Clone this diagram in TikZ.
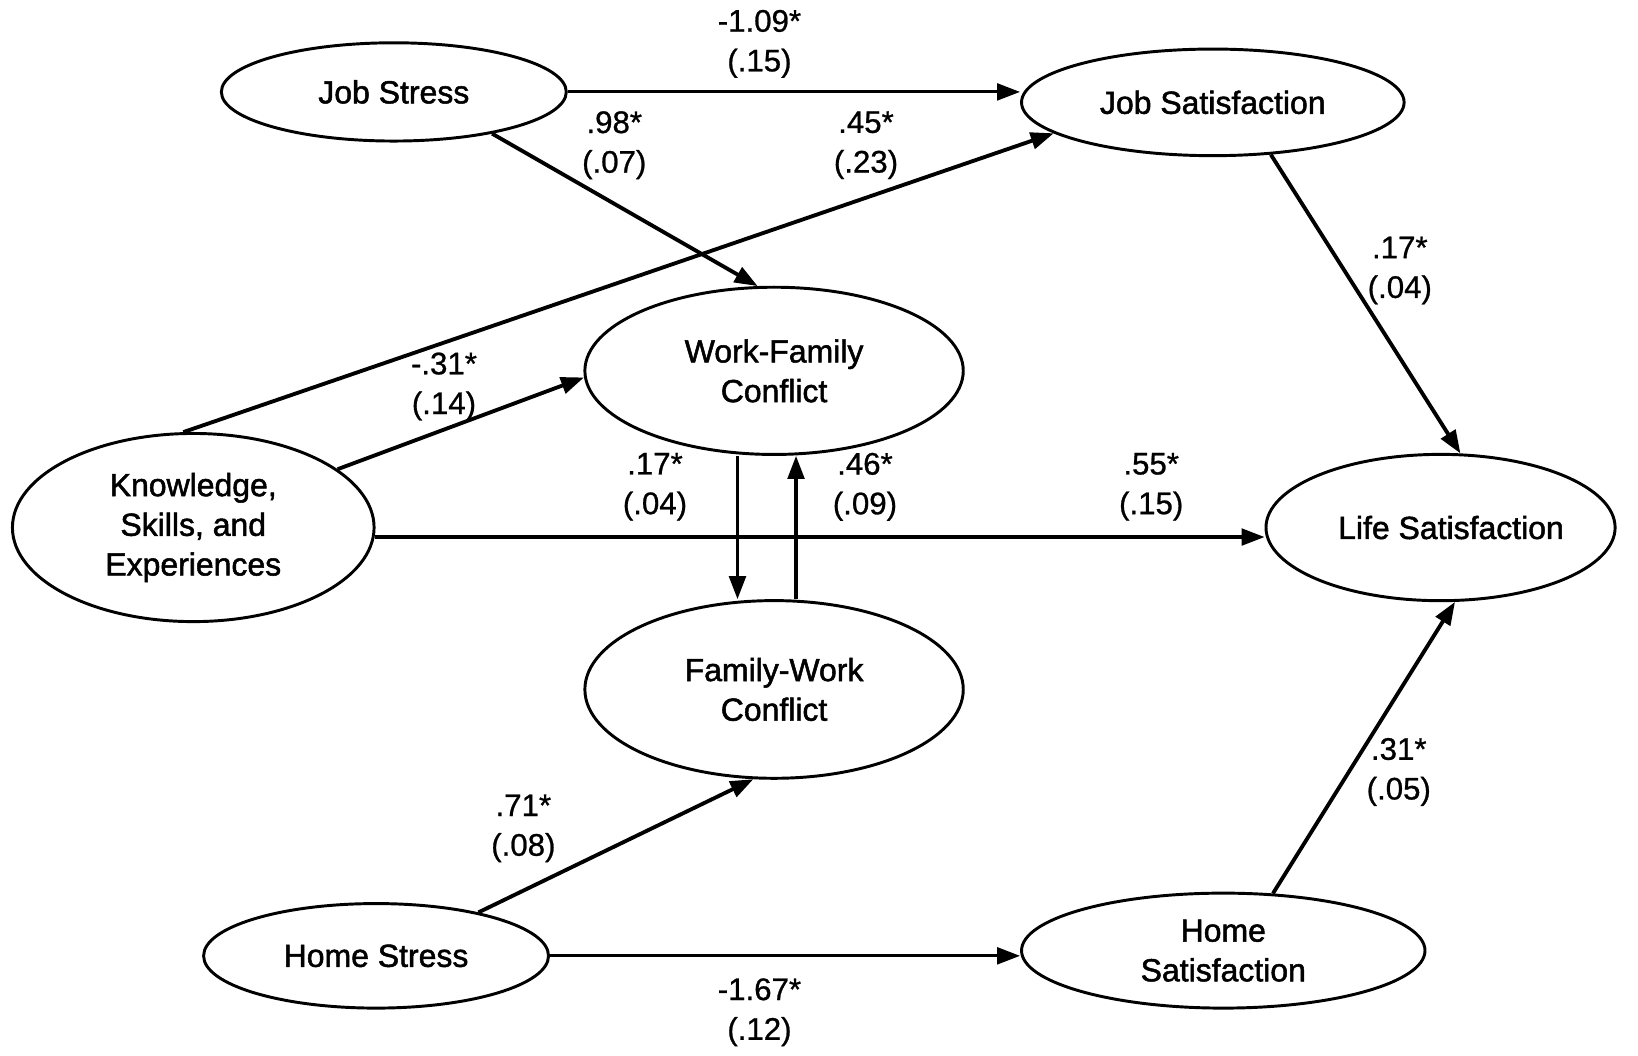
\documentclass[tikz,border=0pt]{standalone}
\usepackage{fontspec}
\setmainfont{Liberation Sans}
\newfontfamily\nodefont{Liberation Sans}[FakeBold=1.6]
\newfontfamily\labfont{Liberation Sans}[FakeBold=0.8]
\usetikzlibrary{shapes.geometric,arrows.meta}
\tikzset{
  var/.style={ellipse,draw,line width=0.8pt,inner sep=0pt,align=center,
    font=\nodefont\fontsize{8.7}{10.8}\selectfont},
  lab/.style={align=center,inner sep=0pt,font=\labfont\fontsize{8.5}{10.8}\selectfont},
  conn/.style={line width=0.85pt,-{Triangle[length=0.22cm,width=0.16cm]}},
  diag/.style={conn,line width=1.05pt},
}
\begin{document}
\begin{tikzpicture}[x=0.01cm,y=-0.01cm]
\useasboundingbox (0,0) rectangle (1568,1010);
\node[var,minimum width=3.30cm,minimum height=0.94cm] (JS) at (377,88) {Job Stress};
\node[var,minimum width=3.66cm,minimum height=1.02cm] (JSat) at (1161,98) {Job Satisfaction};
\node[var,minimum width=3.62cm,minimum height=1.60cm] (WFC) at (741,355) {Work-Family\\Conflict};
\node[var,minimum width=3.46cm,minimum height=1.80cm] (KSE) at (185,505) {Knowledge,\\Skills, and\\Experiences};
\node[var,minimum width=3.34cm,minimum height=1.40cm] (LS) at (1379,505) {\hspace*{0.2cm}Life Satisfaction};
\node[var,minimum width=3.62cm,minimum height=1.70cm] (FWC) at (741,660) {Family-Work\\Conflict};
\node[var,minimum width=3.30cm,minimum height=1.00cm] (HS) at (360,915) {Home Stress};
\node[var,minimum width=3.86cm,minimum height=1.10cm] (HSat) at (1171,910) {Home\\Satisfaction};

\draw[conn] (JS.east) -- (JS.east -| JSat.west);
\draw[diag] (JS.-23) -- (WFC.101);
\draw[diag] (KSE.96) -- (JSat.191);
\draw[diag] (KSE.22) -- (WFC.182);
\draw[conn] (KSE.-3) -- (KSE.-3 -| LS.west);
\draw[conn] ([xshift=-0.35cm]WFC.south) -- ([xshift=-0.35cm]FWC.north);
\draw[conn] ([xshift=0.21cm]FWC.north) -- ([xshift=0.21cm]WFC.south);
\draw[diag] (JSat.-42) -- (LS.75);
\draw[diag] (HS.23) -- (FWC.-103);
\draw[conn] (HS.east) -- (HS.east -| HSat.west);
\draw[diag] (HSat.49) -- (LS.-79);

\node[lab] (l1) at (727,42) {-1.09*\\(.15)};
\node[lab] (l2) at (588,139) {.98*\\(.07)};
\node[lab] (l3) at (829,139) {.45*\\(.23)};
\node[lab] (l4) at (1340,259) {.17*\\(.04)};
\node[lab] (l5) at (425,370) {-.31*\\(.14)};
\node[lab] (l6) at (627,466) {.17*\\(.04)};
\node[lab] (l7) at (828,466) {.46*\\(.09)};
\node[lab] (l8) at (1102,466) {.55*\\(.15)};
\node[lab] (l9) at (501,793) {.71*\\(.08)};
\node[lab] (l10) at (1339,739) {.31*\\(.05)};
\node[lab] (l11) at (727,969) {-1.67*\\(.12)};
\end{tikzpicture}
\end{document}
